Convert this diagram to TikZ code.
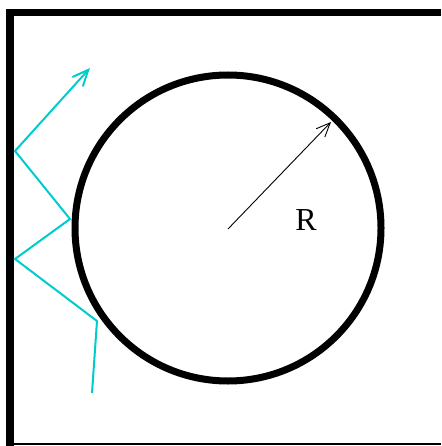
\documentclass[tikz,border=0pt]{standalone}
\usepackage{fontspec}
\setmainfont{Liberation Serif}
\usetikzlibrary{arrows.meta}
\definecolor{ray}{RGB}{0,204,204}
\begin{document}
\begin{tikzpicture}[x=1pt,y=-1pt,
  thickline/.style={line width=7.5pt,line cap=butt},
  raypath/.style={ray,line width=2pt,line join=miter},
  radius/.style={line width=0.9pt,-{Straight Barb[length=14pt,width=12pt,line width=0.9pt]}}]
\useasboundingbox (0,0) rectangle (441,446);
\coordinate (tl) at (10,12.5);
\coordinate (bl) at (10,446);
\coordinate (tr) at (441,12.5);
\coordinate (bl2) at (10,443.5);
\coordinate (br) at (441,443.5);
\draw[thickline] (bl) -- (10,9) (6.25,12.5) -- (tr);
\draw[line width=2pt] (bl2) -- (br);
\node[circle,draw,line width=7pt,minimum size=306pt,inner sep=0pt] (disk) at (228,228) {};
\coordinate (c) at (228,229);
\coordinate (rt) at (331,122);
\draw[radius] (c) -- (rt);
\node[font=\fontsize{32}{32}\selectfont,inner sep=0pt] (R) at (306,220) {R};
\coordinate (p0) at (92,393);
\coordinate (p1) at (97,321);
\coordinate (p2) at (15,259);
\coordinate (p3) at (70,219);
\coordinate (p4) at (15,151);
\coordinate (p5) at (90,68);
\draw[raypath,-{Straight Barb[length=16pt,width=14pt,line width=2pt]}] (p0) -- (p1) -- (p2) -- (p3) -- (p4) -- (p5);
\end{tikzpicture}
\end{document}
